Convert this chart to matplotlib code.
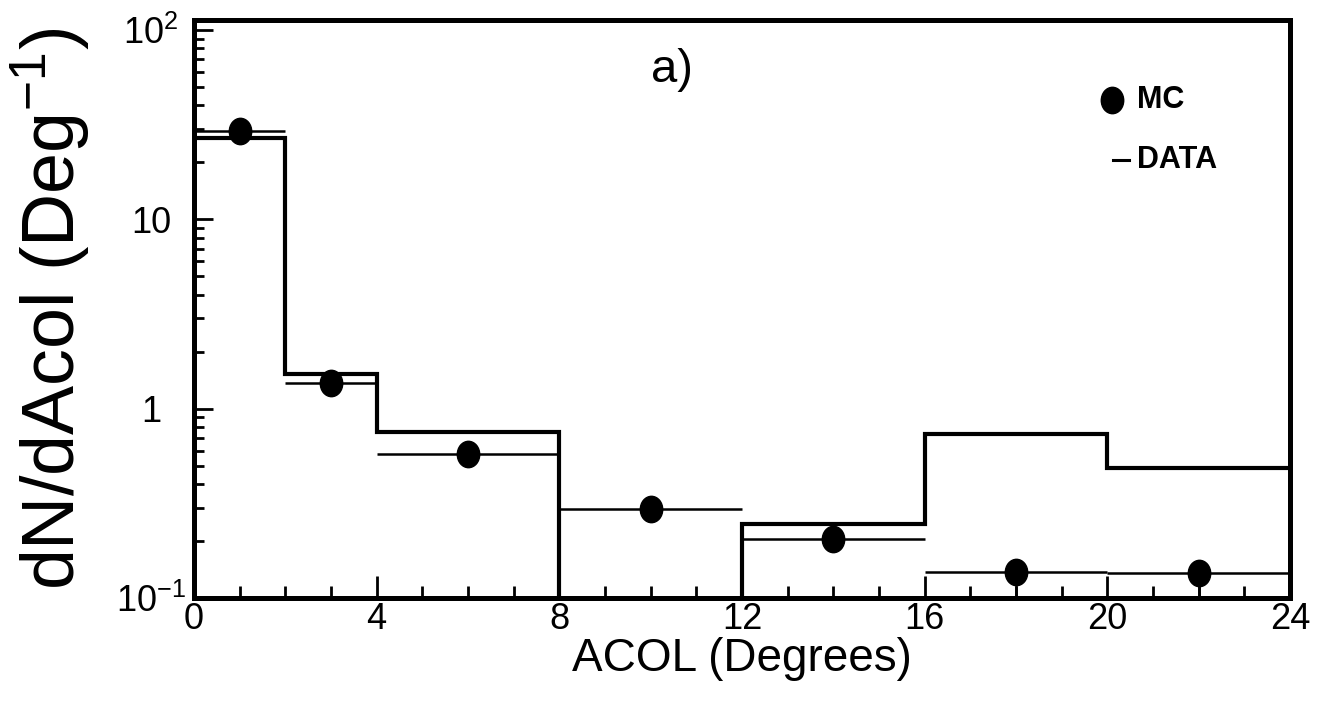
import numpy as np
import matplotlib
matplotlib.use('Agg')
import matplotlib.pyplot as plt
from matplotlib.path import Path
from matplotlib.transforms import Affine2D
from matplotlib.ticker import MultipleLocator, LogLocator, NullFormatter

# ---- data ----
bin_edges = [0, 2, 4, 8, 12, 16, 20, 24]
hist_values = [26.8, 1.53, 0.755, 0.0, 0.246, 0.737, 0.487]      # thick step histogram
point_x = [1, 3, 6, 10, 14, 18, 22]                               # MC points
point_y = [29.2, 1.37, 0.578, 0.296, 0.205, 0.137, 0.136]
point_yerr_low = [1.5, 0.08, 0.04, 0.03, 0.03, 0.04, 0.04]
point_yerr_high = [1.5, 0.08, 0.04, 0.03, 0.03, 0.02, 0.02]
x_ticks = [0, 4, 8, 12, 16, 20, 24]
y_ticks = [0.1, 1, 10, 100]
y_tick_labels = [r'$\mathregular{10^{-1}}$', '1', '10', r'$\mathregular{10^{2}}$']

font = ['Liberation Sans', 'DejaVu Sans']

fig = plt.figure(figsize=(13.18, 7.19), dpi=100)
ax = fig.add_axes([194/1318, 1 - 598/719, 1096/1318, 578/719])
ax.set_yscale('log')
ax.set_xlim(0, 24)
ax.set_ylim(0.1, 10**(2 + 10/189))

edges = np.array(bin_edges, dtype=float)
hv = np.maximum(np.array(hist_values, dtype=float), 1e-4)
ax.stairs(hv, edges, baseline=None, color='black', lw=3.0, zorder=3)

xerr = (edges[1:] - edges[:-1]) / 2
ell = Path.unit_circle().transformed(Affine2D().scale(0.85, 1.0))
ax.errorbar(point_x, point_y, xerr=xerr, yerr=[point_yerr_low, point_yerr_high],
            fmt='none', ecolor='black', elinewidth=1.8, capsize=0, zorder=4)
ax.plot(point_x, point_y, linestyle='none', marker=ell, markersize=19,
        color='black', zorder=5)

for s in ax.spines.values():
    s.set_linewidth(3.6)

ax.set_xticks(x_ticks, [str(t) for t in x_ticks], fontsize=26, fontfamily=font)
ax.xaxis.set_minor_locator(MultipleLocator(1))
ax.set_yticks(y_ticks, y_tick_labels, fontsize=26, fontfamily=font)
ax.yaxis.set_minor_locator(LogLocator(base=10, subs=np.arange(2, 10)))
ax.yaxis.set_minor_formatter(NullFormatter())
ax.tick_params(which='both', direction='in', top=False, right=False, width=2)
ax.tick_params(axis='x', which='major', length=16, pad=3)
ax.tick_params(axis='x', which='minor', length=8.5)
ax.tick_params(axis='y', which='major', length=14, pad=31)
ax.tick_params(axis='y', which='minor', length=7)
for lab in ax.get_yticklabels():
    lab.set_horizontalalignment('center')

ax.set_xlabel('ACOL (Degrees)', fontsize=33, fontfamily=font, labelpad=0)
ax.set_ylabel(r'dN/dAcol (Deg$^{\mathregular{-1}}$)', fontsize=53,
              fontfamily=font)
ax.yaxis.set_label_coords(-0.092, 0.5)

ax.text(10.47, 0.913, 'a)', transform=ax.get_xaxis_transform(), fontsize=34,
        fontfamily=font, ha='center', va='center')

# legend (manual)
ax.plot([0.8376], [0.8616], transform=ax.transAxes, marker=ell, markersize=19,
        color='black', linestyle='none', clip_on=False)
ax.text(0.8604, 0.8616, 'MC', transform=ax.transAxes, fontsize=22,
        fontfamily=font, fontweight='bold', ha='left', va='center')
ax.plot([0.8385, 0.8530], [0.7578, 0.7578], transform=ax.transAxes,
        color='black', lw=2.2, clip_on=False)
ax.text(0.8604, 0.7578, 'DATA', transform=ax.transAxes, fontsize=22,
        fontfamily=font, fontweight='bold', ha='left', va='center')

fig.savefig('out.png', dpi=100)
